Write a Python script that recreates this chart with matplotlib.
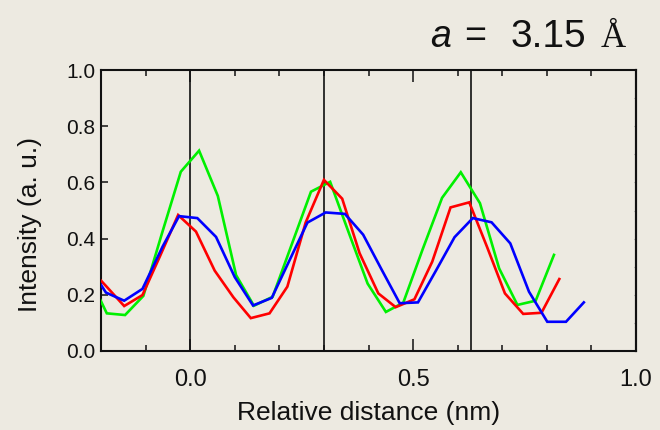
import matplotlib
matplotlib.use('Agg')
import matplotlib.pyplot as plt
from matplotlib.ticker import MultipleLocator, FixedLocator
import numpy as np

plt.rcParams['font.family'] = ['Liberation Sans', 'DejaVu Sans']

# ---- data ----
green_x = [-0.228, -0.187, -0.146, -0.105, -0.063, -0.021, 0.020, 0.062, 0.103, 0.143,
           0.185, 0.228, 0.271, 0.314, 0.356, 0.398, 0.439, 0.478, 0.521, 0.565,
           0.607, 0.650, 0.693, 0.734, 0.775, 0.816]
green_y = [0.27, 0.134, 0.128, 0.196, 0.42, 0.638, 0.713, 0.552, 0.270, 0.161,
           0.193, 0.380, 0.567, 0.602, 0.42, 0.240, 0.139, 0.172, 0.36, 0.545,
           0.636, 0.526, 0.294, 0.164, 0.179, 0.342]

red_x = [-0.229, -0.188, -0.148, -0.107, -0.067, -0.027, 0.013, 0.055, 0.097, 0.136,
         0.178, 0.218, 0.259, 0.300, 0.341, 0.380, 0.422, 0.461, 0.503, 0.543,
         0.584, 0.626, 0.666, 0.706, 0.747, 0.788, 0.828]
red_y = [0.30, 0.23, 0.160, 0.199, 0.34, 0.484, 0.425, 0.286, 0.191, 0.117,
         0.134, 0.229, 0.457, 0.609, 0.542, 0.348, 0.205, 0.156, 0.184, 0.318,
         0.511, 0.529, 0.37, 0.205, 0.132, 0.136, 0.256]

blue_x = [-0.230, -0.189, -0.148, -0.107, -0.062, -0.025, 0.016, 0.058, 0.100, 0.141,
          0.183, 0.222, 0.263, 0.304, 0.347, 0.388, 0.429, 0.470, 0.511, 0.552,
          0.593, 0.634, 0.676, 0.718, 0.760, 0.801, 0.843, 0.883]
blue_y = [0.31, 0.208, 0.179, 0.221, 0.371, 0.480, 0.473, 0.406, 0.263, 0.162,
          0.189, 0.32, 0.457, 0.493, 0.488, 0.414, 0.291, 0.170, 0.173, 0.288,
          0.405, 0.473, 0.458, 0.383, 0.211, 0.104, 0.104, 0.173]

vlines = [0.0, 0.30, 0.63]
xticks = [0.0, 0.5, 1.0]
xticklabels = ['0.0', '0.5', '1.0']

bg = '#EDEAE1'
W, H = 660, 430
fig = plt.figure(figsize=(6.6, 4.3), dpi=100, facecolor=bg)
ax = fig.add_axes([101 / W, 1 - 351 / H, 535 / W, 281 / H])
ax.set_facecolor(bg)

for xs, ys, c in [(green_x, green_y, '#00F000'), (red_x, red_y, '#FF0000'), (blue_x, blue_y, '#0000FF')]:
    ax.plot(xs, ys, color=c, lw=1.9, zorder=3, solid_joinstyle='miter')

for v in vlines:
    ax.axvline(v, color='#111111', lw=1.2, zorder=2)

ax.set_xlim(-0.2, 1.0)
ax.set_ylim(0.0, 1.0)

ax.xaxis.set_major_locator(FixedLocator(xticks))
ax.set_xticklabels(xticklabels)
ax.xaxis.set_minor_locator(MultipleLocator(0.1))
ax.yaxis.set_major_locator(MultipleLocator(0.2))
ax.yaxis.set_major_formatter('{x:.1f}')

ax.tick_params(axis='x', which='both', direction='in', top=True, bottom=True,
               labelsize=17, pad=13, colors='#111111')
ax.tick_params(axis='x', which='major', length=8.5, width=1.1)
ax.tick_params(axis='x', which='minor', length=4.3, width=1.1)
ax.tick_params(axis='y', which='major', direction='in', left=True, right=False,
               length=5, width=1.1, labelsize=15, pad=4, colors='#111111')

for s in ax.spines.values():
    s.set_linewidth(1.5)
    s.set_color('#111111')

sec = ax.secondary_yaxis('right')
sec.set_yticks(np.arange(0, 1.01, 0.1))
sec.tick_params(direction='in', length=1.5, width=0.8, color='#999999', labelright=False)
sec.spines['right'].set_linewidth(1.5)
sec.spines['right'].set_color('#111111')

ax.set_xlabel('Relative distance (nm)', fontsize=19, color='#111111', labelpad=7)
ax.set_ylabel('Intensity (a. u.)', fontsize=19, color='#111111')
ax.yaxis.set_label_coords(-0.110, 0.45)

# title pieces
yb = 1 - 46.7 / H
fig.text(430 / W, yb, 'a', fontsize=27, fontstyle='italic', va='baseline', ha='left', color='#111111')
fig.text(464.5 / W, yb, '=', fontsize=27, va='baseline', ha='left', color='#111111')
fig.text(548 / W, yb, '3.15', fontsize=28, va='baseline', ha='center', color='#111111')
fig.text(601 / W, yb, 'Å', fontsize=25, family='Liberation Serif', va='baseline', ha='left', color='#111111')

fig.savefig('out.png', dpi=100, facecolor=bg)
